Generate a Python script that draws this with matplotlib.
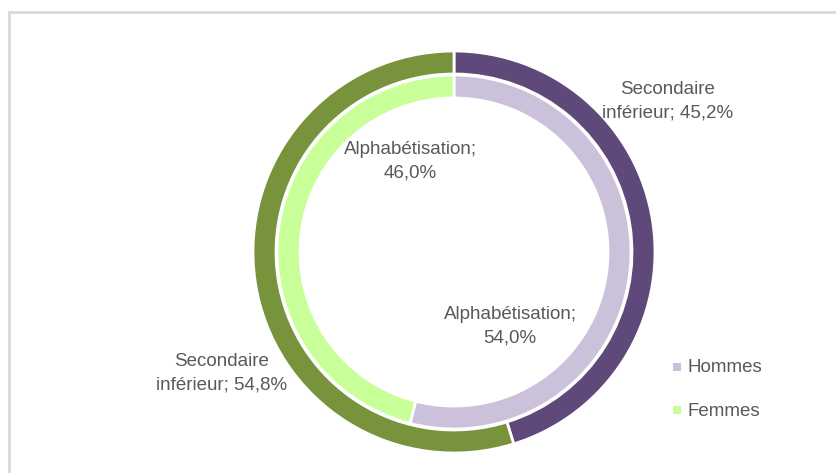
import matplotlib
matplotlib.use("Agg")
from matplotlib import pyplot as plt
from matplotlib.patches import Rectangle

plt.rcParams['font.family'] = ['Liberation Sans', 'DejaVu Sans']

# outer ring: Secondaire inférieur, inner ring: Alphabétisation
groups = ['Hommes', 'Femmes']
secondaire = [45.2, 54.8]
alpha = [54.0, 46.0]

outer_colors = ['#5f497a', '#77933c']
inner_colors = ['#ccc1da', '#c9ff99']
legend_colors = ['#ccc1da', '#c9ff99']
text_color = '#595959'

W, H = 837, 473
fig = plt.figure(figsize=(W / 100, H / 100), dpi=100)
ax = fig.add_axes([0, 0, 1, 1])

# chart area frame (runs off the right and bottom edges)
ax.add_patch(Rectangle((9, -10), W + 20, H - 12 + 10, fill=False,
                       edgecolor='#d9d9d9', linewidth=2))

cx, cy = 454, H - 252
wedge = dict(edgecolor='white', linewidth=2)
ax.pie(secondaire, radius=201, center=(cx, cy), colors=outer_colors,
       startangle=90, counterclock=False,
       wedgeprops=dict(width=23, **wedge), frame=True)
ax.pie(alpha, radius=177, center=(cx, cy), colors=inner_colors,
       startangle=90, counterclock=False,
       wedgeprops=dict(width=23, **wedge), frame=True)
ax.set_xlim(0, W)
ax.set_ylim(0, H)
ax.set_aspect('equal')
ax.axis('off')

def fmt(v):
    return ('%.1f%%' % v).replace('.', ',')

lab = dict(ha='center', va='center', fontsize=13.5, color=text_color,
           linespacing=1.5)
ax.text(668, H - 101, 'Secondaire\ninférieur; ' + fmt(secondaire[0]), **lab)
ax.text(222, H - 373, 'Secondaire\ninférieur; ' + fmt(secondaire[1]), **lab)
ax.text(510, H - 326, 'Alphabétisation;\n' + fmt(alpha[0]), **lab)
ax.text(410, H - 161, 'Alphabétisation;\n' + fmt(alpha[1]), **lab)

# legend
for i, (g, c) in enumerate(zip(groups, legend_colors)):
    y = H - 367 - i * 43
    ax.add_patch(Rectangle((673, y - 4), 8, 8, facecolor=c, edgecolor='none'))
    ax.text(688, y - 1, g, ha='left', va='center', fontsize=13.5,
            color=text_color)

fig.savefig('out.png', dpi=100)
